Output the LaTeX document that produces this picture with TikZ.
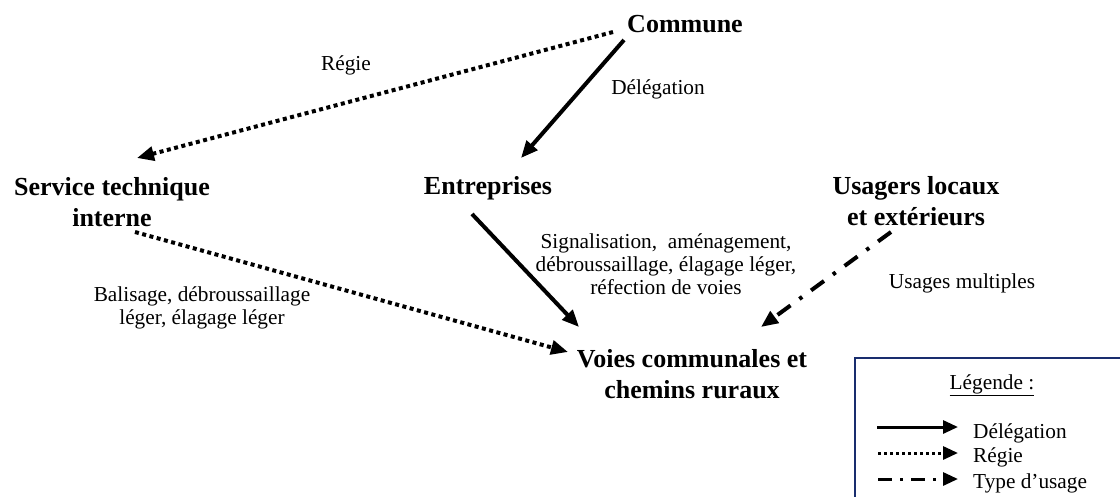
\documentclass[tikz,border=0pt]{standalone}
\usepackage{fontspec}
\setmainfont{Liberation Serif}
\usetikzlibrary{arrows.meta}
\definecolor{legendblue}{RGB}{25,45,110}
\tikzset{
  bigtext/.style={font=\bfseries\fontsize{26}{31}\selectfont, align=center, inner sep=0pt, anchor=base},
  smalltext/.style={font=\fontsize{21.3}{23}\selectfont, align=center, inner sep=0pt, anchor=base},
  legtext/.style={font=\fontsize{21.3}{24}\selectfont, inner sep=0pt, anchor=base west},
  arr/.style={line width=4pt, -{Triangle[length=17pt,width=14pt]}},
  legarr/.style={line width=3pt, -{Triangle[length=15pt,width=13pt]}},
  delegline/.style={},
  regieline/.style={dash pattern=on 4pt off 3.5pt},
  usageline/.style={dash pattern=on 16pt off 11pt on 3.5pt off 11pt},
}
\begin{document}
\begin{tikzpicture}[x=1pt,y=-1pt]
\useasboundingbox (0,0) rectangle (1120,496);
% main nodes (anchor = base of last line)
\node[bigtext] (commune) at (685,32) {Commune};
\node[bigtext] (service) at (112,226) {Service technique\\interne};
\node[bigtext] (entreprises) at (488,194) {Entreprises};
\node[bigtext] (usagers) at (916,225) {Usagers locaux\\et extérieurs};
\node[bigtext] (voies) at (692,398) {Voies communales et\\chemins ruraux};
% labels
\node[smalltext] (lregie) at (346,70) {Régie};
\node[smalltext] (ldeleg) at (658,94) {Délégation};
\node[smalltext] (lsignal) at (666,294) {Signalisation,\ \ aménagement,\\débroussaillage, élagage léger,\\réfection de voies};
\node[smalltext] (lbalis) at (202,324) {Balisage, débroussaillage\\léger, élagage léger};
\node[smalltext] (lusages) at (962,288) {Usages multiples};
% connectors
\draw[arr,regieline] ([shift={(-72,0)}]commune.base) -- ([shift={(25,-68)}]service.base);
\draw[arr,delegline] ([shift={(-61,8)}]commune.base) -- ([shift={(33,-36)}]entreprises.base);
\draw[arr,delegline] ([shift={(-16,20)}]entreprises.base) -- ([shift={(-113,-71)}]voies.base);
\draw[arr,regieline] ([shift={(23,6)}]service.base) -- ([shift={(-124,-46)}]voies.base);
\draw[arr,usageline] ([shift={(-25,7)}]usagers.base) -- ([shift={(69,-71)}]voies.base);
% legend
\draw[legendblue, line width=1.5pt] (855,358) rectangle (1130,510);
\node[smalltext] (legtitle) at (992,389) {\underline{Légende :}};
\node[legtext] (ltd) at (973,438) {Délégation};
\node[legtext] (ltr) at (973,462) {Régie};
\node[legtext] (ltu) at (973,488) {Type d’usage};
\coordinate (lds) at (877,427);
\coordinate (lde) at (958,427);
\coordinate (lrs) at (878,453);
\coordinate (lre) at (958,453);
\coordinate (lus) at (878,479);
\coordinate (lue) at (958,479);
\draw[legarr,delegline] (lds) -- (lde);
\draw[legarr,dash pattern=on 3pt off 3pt] (lrs) -- (lre);
\draw[legarr,dash pattern=on 14pt off 8pt on 3pt off 8pt] (lus) -- (lue);
\end{tikzpicture}
\end{document}
